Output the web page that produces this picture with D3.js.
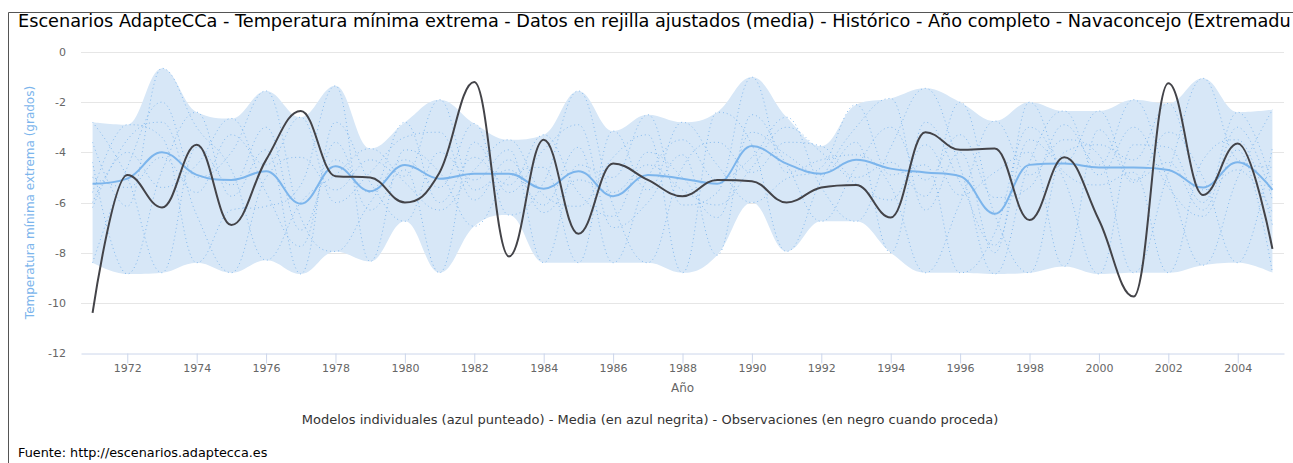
<!DOCTYPE html>
<html>
<head>
<meta charset="utf-8">
<script src="https://cdn.jsdelivr.net/npm/d3@7"></script>
<style>
  body { margin: 0; background: #fff; }
  svg { display: block; font-family: "DejaVu Sans", sans-serif; }
</style>
</head>
<body>
<svg id="chart" width="1293" height="463"></svg>
<script>
// ---- data -------------------------------------------------------------
const years = [1971, 1972, 1973, 1974, 1975, 1976, 1977, 1978, 1979, 1980,
               1981, 1982, 1983, 1984, 1985, 1986, 1987, 1988, 1989, 1990,
               1991, 1992, 1993, 1994, 1995, 1996, 1997, 1998, 1999, 2000,
               2001, 2002, 2003, 2004, 2005];

// observed series (black)
const observed = [-10.4, -4.9, -6.2, -3.7, -6.9, -4.3, -2.35, -4.95, -5.0, -6.0,
                  -4.8, -1.2, -8.15, -3.5, -7.25, -4.45, -5.1, -5.75, -5.1, -5.15,
                  -6.0, -5.4, -5.3, -6.6, -3.2, -3.9, -3.85, -6.7, -4.2, -6.7,
                  -9.75, -1.25, -5.7, -3.65, -7.85];

// ensemble mean (bold blue)
const ensembleMean = [-5.25, -5.05, -4.0, -4.9, -5.1, -4.75, -6.05, -4.55, -5.55, -4.5,
                      -5.05, -4.85, -4.85, -5.45, -4.75, -5.75, -4.9, -5.05, -5.25, -3.75,
                      -4.45, -4.85, -4.3, -4.65, -4.8, -4.95, -6.45, -4.5, -4.45, -4.6,
                      -4.6, -4.7, -5.4, -4.4, -5.5];

// ensemble spread (shaded band)
const rangeHigh = [-2.8, -2.9, -0.65, -2.4, -2.65, -1.55, -2.6, -1.35, -3.85, -2.8,
                   -1.9, -2.85, -3.5, -3.3, -1.55, -3.15, -2.5, -2.8, -2.4, -1.0,
                   -2.6, -3.75, -2.1, -1.85, -1.45, -2.0, -2.75, -2.0, -2.35, -2.35,
                   -1.9, -2.05, -1.05, -2.4, -2.3];
const rangeLow = [-8.4, -8.85, -8.8, -8.4, -8.8, -8.3, -8.85, -7.95, -8.35, -6.75,
                  -8.8, -6.95, -6.5, -8.4, -8.4, -8.4, -8.4, -8.8, -8.1, -6.0,
                  -7.95, -6.75, -6.75, -8.0, -8.8, -8.8, -8.85, -8.8, -8.55, -8.85,
                  -8.8, -8.8, -8.5, -8.4, -8.8];

// individual models (dotted blue)
const model1 = [-2.8, -5.0, -8.8, -3.8, -5.3, -3.0, -7.1, -4.3, -5.6, -2.8,
                -6.0, -4.2, -5.3, -3.3, -5.6, -6.55, -4.0, -5.0, -6.6, -3.2,
                -4.1, -4.9, -3.6, -8.0, -2.8, -5.2, -7.7, -3.5, -4.4, -2.35,
                -5.1, -4.4, -6.3, -3.0, -5.9];
const model2 = [-6.2, -3.5, -2.8, -6.5, -8.8, -5.0, -4.2, -5.5, -4.3, -4.95,
                -1.9, -5.5, -4.7, -6.1, -3.8, -8.4, -5.0, -3.5, -5.1, -4.2,
                -2.6, -5.4, -6.75, -3.8, -1.45, -4.6, -8.85, -4.4, -2.35, -4.9,
                -3.0, -5.4, -6.55, -3.9, -8.8];
const model3 = [-8.4, -4.6, -2.0, -5.0, -4.0, -1.55, -6.6, -7.95, -6.0, -4.3,
                -5.4, -2.85, -6.5, -5.2, -1.55, -6.1, -8.4, -4.6, -3.6, -4.8,
                -3.6, -3.75, -5.0, -4.4, -5.75, -2.0, -6.5, -8.8, -4.0, -3.7,
                -4.3, -2.05, -5.5, -4.7, -6.4];
const model4 = [-4.4, -8.85, -4.75, -2.4, -5.75, -3.9, -8.85, -2.8, -5.2, -6.75,
                -4.0, -5.1, -3.9, -8.4, -4.5, -5.0, -2.5, -6.1, -5.6, -1.0,
                -4.8, -4.3, -4.1, -5.35, -8.8, -6.0, -2.75, -4.9, -3.5, -4.1,
                -8.8, -4.8, -1.05, -4.3, -4.6];
const model5 = [-5.6, -2.9, -3.4, -8.4, -6.3, -6.15, -5.3, -1.35, -8.35, -3.9,
                -4.8, -6.95, -5.0, -4.6, -8.4, -3.15, -5.5, -2.8, -4.5, -6.0,
                -5.05, -4.6, -2.1, -4.9, -4.5, -8.8, -7.2, -3.0, -5.1, -8.85,
                -3.7, -3.8, -6.0, -2.4, -5.3];
const model6 = [-3.6, -6.15, -0.65, -3.0, -4.7, -8.3, -6.0, -4.9, -3.85, -5.2,
                -6.3, -4.7, -3.5, -5.7, -6.15, -4.2, -3.3, -8.8, -2.4, -3.7,
                -7.95, -5.1, -3.0, -1.85, -6.3, -4.0, -8.0, -2.0, -4.8, -5.3,
                -4.8, -8.8, -4.3, -3.5, -6.9];
const model7 = [-6.0, -4.0, -5.4, -4.5, -2.65, -5.6, -7.75, -3.6, -6.3, -4.7,
                -8.8, -3.6, -5.6, -3.9, -2.9, -7.0, -6.0, -4.1, -8.1, -2.5,
                -4.5, -6.75, -4.6, -3.0, -5.1, -3.3, -5.8, -5.4, -2.9, -4.5,
                -1.9, -5.15, -8.5, -5.0, -2.3];
const model8 = [-5.0, -5.4, -4.2, -5.6, -3.3, -4.5, -2.6, -6.0, -4.8, -3.4,
                -3.2, -5.9, -4.3, -6.4, -5.1, -5.6, -4.5, -5.5, -6.1, -4.6,
                -3.0, -4.0, -5.25, -5.9, -3.7, -5.7, -4.8, -4.0, -8.55, -3.1,
                -5.2, -3.2, -5.0, -8.4, -3.8];
const models = [model1, model2, model3, model4, model5, model6, model7, model8];

const xTickValues = [1972, 1974, 1976, 1978, 1980, 1982, 1984, 1986, 1988,
                     1990, 1992, 1994, 1996, 1998, 2000, 2002, 2004];
const yTickValues = [0, -2, -4, -6, -8, -10, -12];

const titleText = "Escenarios AdapteCCa - Temperatura mínima extrema - Datos en rejilla ajustados (media) - Histórico - Año completo - Navaconcejo (Extremadu";
const yAxisTitle = "Temperatura mínima extrema (grados)";
const xAxisTitle = "Año";
const captionText = "Modelos individuales (azul punteado) - Media (en azul negrita) - Observaciones (en negro cuando proceda)";
const sourceText = "Fuente: http://escenarios.adaptecca.es";

// ---- layout -----------------------------------------------------------
const W = 1293, H = 463;
const plot = { left: 81, right: 1284, top: 52, bottom: 353 };

const svg = d3.select("#chart");
const defs = svg.append("defs");

const x = d3.scaleLinear()
  .domain([years[0] - 1 / 3, years[years.length - 1] + 1 / 3])
  .range([plot.left, plot.right]);
const y = d3.scaleLinear()
  .domain([-12, 0])
  .range([plot.bottom, plot.top]);

// Spline with the same control-point rule as a Highcharts "spline" series
function HcSpline(context) { this._context = context; }
HcSpline.prototype = {
  areaStart() { this._line = 0; },
  areaEnd() { this._line = NaN; },
  lineStart() { this._pts = []; },
  point(px, py) { this._pts.push([+px, +py]); },
  lineEnd() {
    const p = this._pts, c = this._context, n = p.length;
    if (n) {
      if (this._line) c.lineTo(p[0][0], p[0][1]); else c.moveTo(p[0][0], p[0][1]);
      const sm = 1.5, den = sm + 1;
      const left = [], right = [];
      for (let i = 0; i < n; i++) {
        const [px, py] = p[i];
        if (i > 0 && i < n - 1) {
          const [lx, ly] = p[i - 1], [nx, ny] = p[i + 1];
          const lcx = (sm * px + lx) / den, rcx = (sm * px + nx) / den;
          let lcy = (sm * py + ly) / den, rcy = (sm * py + ny) / den;
          let corr = 0;
          if (rcx !== lcx) corr = ((rcy - lcy) * (rcx - px)) / (rcx - lcx) + py - rcy;
          lcy += corr; rcy += corr;
          if (lcy > ly && lcy > py) { lcy = Math.max(ly, py); rcy = 2 * py - lcy; }
          else if (lcy < ly && lcy < py) { lcy = Math.min(ly, py); rcy = 2 * py - lcy; }
          if (rcy > ny && rcy > py) { rcy = Math.max(ny, py); lcy = 2 * py - rcy; }
          else if (rcy < ny && rcy < py) { rcy = Math.min(ny, py); lcy = 2 * py - rcy; }
          left[i] = [lcx, lcy]; right[i] = [rcx, rcy];
        } else {
          left[i] = [px, py]; right[i] = [px, py];
        }
      }
      for (let i = 1; i < n; i++) {
        c.bezierCurveTo(right[i - 1][0], right[i - 1][1], left[i][0], left[i][1], p[i][0], p[i][1]);
      }
    }
    if (this._line || (this._line !== 0 && n === 1)) c.closePath();
    this._line = 1 - this._line;
  }
};
const curveHcSpline = ctx => new HcSpline(ctx);

// ---- frame ------------------------------------------------------------
svg.append("path")
  .attr("d", `M8.5,${H} V12.5 H${W}`)
  .attr("fill", "none")
  .attr("stroke", "#555")
  .attr("stroke-width", 1);

svg.append("text")
  .attr("x", 18).attr("y", 27)
  .attr("font-size", 17.7)
  .attr("fill", "#000")
  .text(titleText);

// ---- grid -------------------------------------------------------------
svg.append("g")
  .selectAll("line")
  .data(yTickValues.filter(v => v !== -12))
  .join("line")
  .attr("x1", plot.left).attr("x2", plot.right)
  .attr("y1", d => Math.round(y(d)) + 0.5).attr("y2", d => Math.round(y(d)) + 0.5)
  .attr("stroke", "#e6e6e6");

// ---- series -----------------------------------------------------------
defs.append("clipPath").attr("id", "plotClip")
  .append("rect")
  .attr("x", plot.left).attr("y", plot.top - 10)
  .attr("width", plot.right - plot.left).attr("height", plot.bottom - plot.top + 10);

const series = svg.append("g").attr("clip-path", "url(#plotClip)");

const band = d3.area()
  .x((d, i) => x(years[i]))
  .y1((d, i) => y(rangeHigh[i]))
  .y0((d, i) => y(rangeLow[i]))
  .curve(curveHcSpline);

series.append("path")
  .attr("d", band(years))
  .attr("fill", "rgb(215,231,247)")
  .attr("stroke", "none");

const lineOf = arr => d3.line()
  .x((d, i) => x(years[i]))
  .y((d, i) => y(arr[i]))
  .curve(curveHcSpline)(arr);

series.append("g")
  .selectAll("path")
  .data(models)
  .join("path")
  .attr("d", m => lineOf(m))
  .attr("fill", "none")
  .attr("stroke", "#7cb5ec")
  .attr("stroke-width", 1)
  .attr("stroke-dasharray", "1,3")
  .attr("opacity", 0.9);

series.append("path")
  .attr("d", lineOf(ensembleMean))
  .attr("fill", "none")
  .attr("stroke", "#7cb5ec")
  .attr("stroke-width", 2);

series.append("path")
  .attr("d", lineOf(observed))
  .attr("fill", "none")
  .attr("stroke", "#434348")
  .attr("stroke-width", 2);

// ---- axes -------------------------------------------------------------
const xAxis = svg.append("g")
  .attr("transform", `translate(0,${plot.bottom + 0.5})`)
  .call(d3.axisBottom(x).tickValues(xTickValues).tickSize(10).tickSizeOuter(0)
    .tickPadding(1).tickFormat(d => String(d)));
xAxis.select(".domain").attr("stroke", "#ccd6eb");
xAxis.selectAll(".tick line").attr("stroke", "#ccd6eb");
xAxis.selectAll(".tick text")
  .attr("fill", "#666").attr("font-size", 11)
  .attr("font-family", "DejaVu Sans, sans-serif");

const yAxis = svg.append("g")
  .attr("transform", `translate(${plot.left},0)`)
  .call(d3.axisLeft(y).tickValues(yTickValues).tickSize(0).tickPadding(15)
    .tickFormat(d => String(d)));
yAxis.select(".domain").remove();
yAxis.selectAll(".tick text")
  .attr("fill", "#666").attr("font-size", 11)
  .attr("font-family", "DejaVu Sans, sans-serif");

svg.append("text")
  .attr("transform", `translate(34,${(plot.top + plot.bottom) / 2}) rotate(-90)`)
  .attr("text-anchor", "middle")
  .attr("font-size", 12)
  .attr("fill", "#7cb5ec")
  .text(yAxisTitle);

svg.append("text")
  .attr("x", (plot.left + plot.right) / 2).attr("y", 392)
  .attr("text-anchor", "middle")
  .attr("font-size", 12)
  .attr("fill", "#666")
  .text(xAxisTitle);

// ---- caption and source -----------------------------------------------
svg.append("text")
  .attr("x", 650).attr("y", 424)
  .attr("text-anchor", "middle")
  .attr("font-size", 13)
  .attr("fill", "#333")
  .text(captionText);

svg.append("text")
  .attr("x", 18).attr("y", 457)
  .attr("font-size", 12.8)
  .attr("fill", "#000")
  .text(sourceText);
</script>
</body>
</html>
